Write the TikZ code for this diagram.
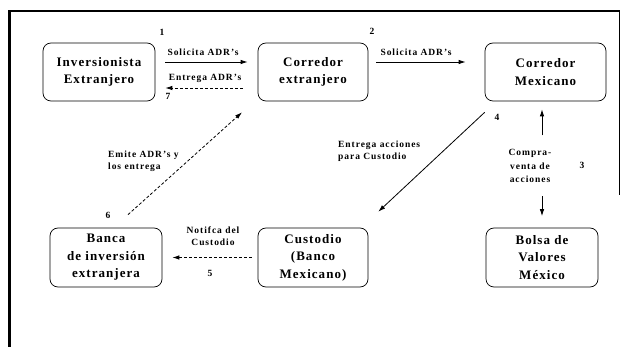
\documentclass[tikz,border=0pt]{standalone}
\usepackage{fontspec}
\setmainfont{Liberation Serif}
\usetikzlibrary{arrows.meta,calc}
\begin{document}
\begin{tikzpicture}[x=1pt,y=-1pt,
  stage/.style={draw, rounded corners=8pt, minimum width=112pt, minimum height=58pt,
    align=center, font=\fontsize{13}{17.5}\selectfont\bfseries\addfontfeature{LetterSpace=8}, inner sep=0pt, line width=0.7pt},
  lab/.style={font=\fontsize{9.5}{12}\selectfont\bfseries\addfontfeature{LetterSpace=10}, inner sep=0pt},
  num/.style={font=\bfseries\fontsize{9.5}{11}\selectfont, inner sep=0pt},
  arr/.style={-{Latex[length=7pt,width=4.5pt]}, line width=0.8pt},
  dsh/.style={dash pattern=on 3pt off 2pt}
]
\useasboundingbox (0,0) rectangle (621,347);
% frame
\draw[line width=3pt] (9,347) -- (9,11);
\draw[line width=1.2pt] (8,11) -- (620,11);
\draw[line width=0.6pt] (619,11) -- (619,195);

% boxes
\node[stage] (inv) at (99,72) {Inversionista\\Extranjero};
\node[stage, minimum width=110pt] (cext) at (313,72) {Corredor\\extranjero};
\node[stage, minimum width=121pt] (cmex) at (545.5,72) {Corredor\\Mexicano};
\node[stage, minimum height=59pt] (banca) at (106,257.5) {Banca\\de inversión\\extranjera};
\node[stage, minimum width=110pt, minimum height=59pt] (cust) at (313,257.5) {Custodio\\(Banco\\Mexicano)};
\node[stage, minimum height=59pt] (bolsa) at (542,257.5) {Bolsa de\\Valores\\México};

% arrows
\draw[arr] ([xshift=10pt,yshift=10pt]inv.east) -- ([xshift=-10pt,yshift=10pt]cext.west);
\draw[arr,dsh] ([xshift=-15pt,yshift=-16pt]cext.west) -- ([xshift=10pt,yshift=-16pt]inv.east);
\draw[arr] ([xshift=8pt,yshift=10pt]cext.east) -- ([xshift=-19pt,yshift=10pt]cmex.west);
\draw[arr,dsh] ($(banca.north)+(22,-13)$) -- ($(cext.south)+(-71,11)$);
\draw[arr] ($(cmex.south west)+(0,11)$) -- ($(cust.north east)+(10,-16)$);
\draw[arr] ($(cmex.south -| bolsa.north)+(0,34)$) -- ($(cmex.south -| bolsa.north)+(0,8)$);
\draw[arr] ($(bolsa.north)+(0,-31.5)$) -- ($(bolsa.north)+(0,-11.5)$);
\draw[arr,dsh] ([xshift=-6pt]cust.west) -- ([xshift=10pt]banca.east);

% labels
\node[lab] (l1) at (203,52) {Solicita ADR's};
\node[lab] (l7) at (205,78) {Entrega ADR's};
\node[lab] (l2) at (416,52) {Solicita ADR's};
\node[lab, align=left, anchor=west] (l6) at (108,161) {Emite ADR's y\\los entrega};
\node[lab, align=left, anchor=west] (l4) at (338,151) {Entrega acciones\\para Custodio};
\node[lab, align=center, font=\fontsize{9.5}{13.5}\selectfont\bfseries\addfontfeature{LetterSpace=10}] (l3) at (530,166) {Compra-\\venta de\\acciones};
\node[lab, align=center] (l5) at (213,236) {Notifca del\\Custodio};

% numbers
\node[num] (n1) at (162,32) {1};
\node[num] (n2) at (372,31) {2};
\node[num] (n3) at (582,165) {3};
\node[num] (n4) at (497,117) {4};
\node[num] (n5) at (210,273) {5};
\node[num] (n6) at (108,215) {6};
\node[num] (n7) at (168,96) {7};
\end{tikzpicture}
\end{document}
